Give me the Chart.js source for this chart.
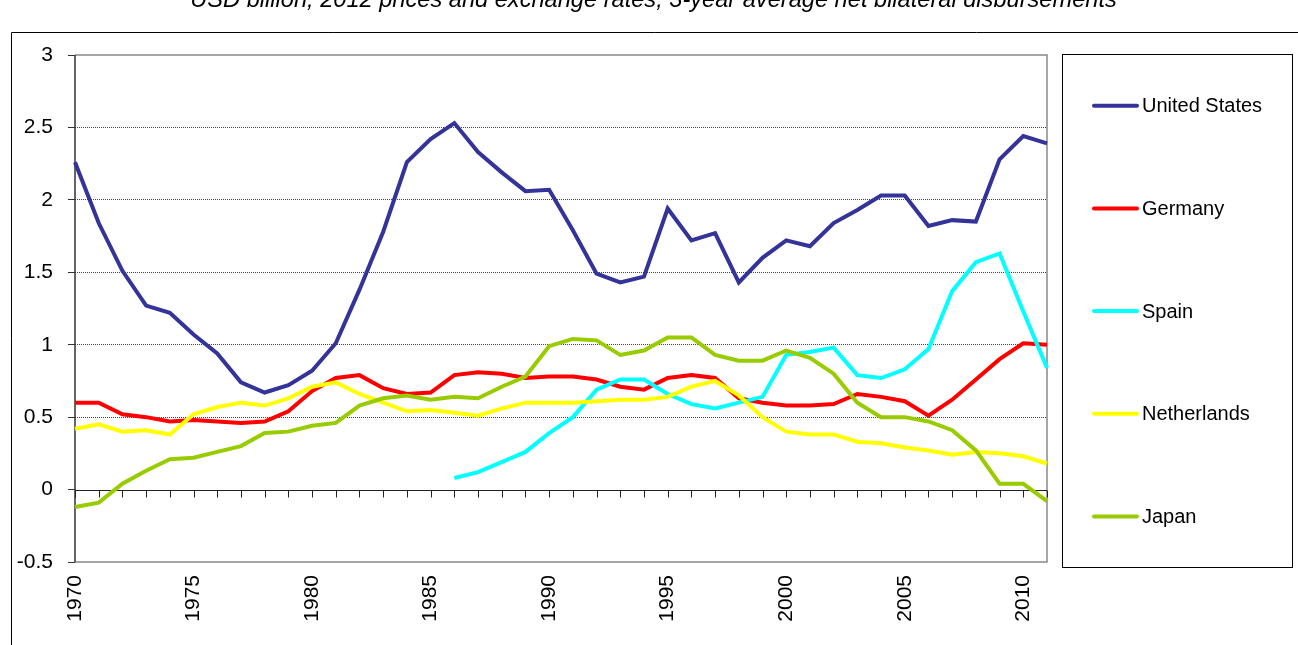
<!DOCTYPE html>
<html>
<head>
<meta charset="utf-8">
<script src="https://cdn.jsdelivr.net/npm/chart.js@4/dist/chart.umd.min.js"></script>
<style>
  html, body { margin: 0; padding: 0; background: #fff; }
  #wrap { width: 1298px; height: 645px; }
</style>
</head>
<body>
<div id="wrap"><canvas id="chart" width="1298" height="645"></canvas></div>
<script>
const titleText = "USD billion, 2012 prices and exchange rates, 3-year average net bilateral disbursements";

const years = [];
for (let y = 1970; y <= 2011; y++) years.push(String(y));

const seriesNames = ["United States", "Germany", "Spain", "Netherlands", "Japan"];
const seriesColors = ["#333399", "#FF0000", "#00FFFF", "#FFFF00", "#99CC00"];

const unitedStates = [2.26, 1.84, 1.51, 1.27, 1.22, 1.07, 0.94, 0.74, 0.67, 0.72,
  0.82, 1.01, 1.38, 1.78, 2.26, 2.42, 2.53, 2.33, 2.19, 2.06,
  2.07, 1.79, 1.49, 1.43, 1.47, 1.94, 1.72, 1.77, 1.43, 1.60,
  1.72, 1.68, 1.84, 1.93, 2.03, 2.03, 1.82, 1.86, 1.85, 2.28, 2.44, 2.39];
const germany = [0.60, 0.60, 0.52, 0.50, 0.47, 0.48, 0.47, 0.46, 0.47, 0.54,
  0.68, 0.77, 0.79, 0.70, 0.66, 0.67, 0.79, 0.81, 0.80, 0.77,
  0.78, 0.78, 0.76, 0.71, 0.69, 0.77, 0.79, 0.77, 0.63, 0.60,
  0.58, 0.58, 0.59, 0.66, 0.64, 0.61, 0.51, 0.62, 0.76, 0.90, 1.01, 1.00];
const spain = [null, null, null, null, null, null, null, null, null, null,
  null, null, null, null, null, null, 0.08, 0.12, 0.19, 0.26,
  0.39, 0.50, 0.69, 0.76, 0.76, 0.66, 0.59, 0.56, 0.60, 0.64,
  0.93, 0.95, 0.98, 0.79, 0.77, 0.83, 0.97, 1.37, 1.57, 1.63, 1.23, 0.84];
const netherlands = [0.42, 0.45, 0.40, 0.41, 0.38, 0.52, 0.57, 0.60, 0.58, 0.63,
  0.71, 0.74, 0.66, 0.60, 0.54, 0.55, 0.53, 0.51, 0.56, 0.60,
  0.60, 0.60, 0.61, 0.62, 0.62, 0.64, 0.71, 0.75, 0.65, 0.50,
  0.40, 0.38, 0.38, 0.33, 0.32, 0.29, 0.27, 0.24, 0.26, 0.25, 0.23, 0.18];
const japan = [-0.12, -0.09, 0.04, 0.13, 0.21, 0.22, 0.26, 0.30, 0.39, 0.40,
  0.44, 0.46, 0.58, 0.63, 0.65, 0.62, 0.64, 0.63, 0.71, 0.78,
  0.99, 1.04, 1.03, 0.93, 0.96, 1.05, 1.05, 0.93, 0.89, 0.89,
  0.96, 0.91, 0.80, 0.60, 0.50, 0.50, 0.47, 0.41, 0.27, 0.04, 0.04, -0.08];

const allSeries = [unitedStates, germany, spain, netherlands, japan];

const FONT = "'Liberation Sans', Arial, sans-serif";

// frame, title, zero axis with ticks, plot border, legend box
const decorations = {
  id: "decorations",
  beforeDatasetsDraw(chart) {
    const ctx = chart.ctx;
    const a = chart.chartArea;
    const xs = chart.scales.x;
    const ys = chart.scales.y;
    ctx.save();
    // plot border (grey)
    ctx.strokeStyle = "#888";
    ctx.lineWidth = 1.5;
    ctx.beginPath();
    ctx.moveTo(a.left, a.top);
    ctx.lineTo(a.right, a.top);
    ctx.lineTo(a.right, a.bottom);
    ctx.lineTo(a.left, a.bottom);
    ctx.stroke();
    // left axis
    ctx.strokeStyle = "#333";
    ctx.lineWidth = 1.5;
    ctx.beginPath();
    ctx.moveTo(a.left, a.top);
    ctx.lineTo(a.left, a.bottom);
    ctx.stroke();
    // zero axis + tick marks
    const y0 = Math.round(ys.getPixelForValue(0)) + 0.5;
    ctx.strokeStyle = "#222";
    ctx.lineWidth = 1;
    ctx.beginPath();
    ctx.moveTo(a.left, y0);
    ctx.lineTo(a.right, y0);
    years.forEach((yr, i) => {
      const px = Math.round(xs.getPixelForValue(i)) + 0.5;
      ctx.moveTo(px, y0);
      ctx.lineTo(px, y0 + 7);
    });
    ctx.stroke();
    ctx.restore();
  },
  afterDraw(chart) {
    const ctx = chart.ctx;
    ctx.save();
    // outer frame
    ctx.strokeStyle = "#000";
    ctx.lineWidth = 1;
    ctx.beginPath();
    ctx.moveTo(11.5, 645);
    ctx.lineTo(11.5, 32.5);
    ctx.lineTo(1298, 32.5);
    ctx.stroke();
    // title (cut off at top)
    ctx.fillStyle = "#000";
    ctx.font = "italic 19px " + FONT;
    let w = ctx.measureText(titleText).width;
    const size = 19 * 927 / w;
    ctx.font = "italic " + size.toFixed(2) + "px " + FONT;
    ctx.textAlign = "center";
    ctx.textBaseline = "alphabetic";
    ctx.fillText(titleText, 653.5, 7);
    // legend
    ctx.strokeStyle = "#000";
    ctx.lineWidth = 1;
    ctx.strokeRect(1062.5, 54.5, 230, 513);
    ctx.font = "20px " + FONT;
    ctx.textAlign = "left";
    ctx.textBaseline = "middle";
    chart.data.datasets.forEach((ds, i) => {
      const ly = 105.7 + i * 102.7;
      ctx.strokeStyle = ds.borderColor;
      ctx.lineWidth = 4;
      ctx.lineCap = "round";
      ctx.beginPath();
      ctx.moveTo(1094, ly);
      ctx.lineTo(1137, ly);
      ctx.stroke();
      ctx.fillStyle = "#000";
      ctx.fillText(ds.label, 1142, ly + 1);
    });
    ctx.restore();
  }
};

new Chart(document.getElementById("chart"), {
  type: "line",
  data: {
    labels: years,
    datasets: seriesNames.map((name, i) => ({
      label: name,
      data: allSeries[i],
      borderColor: seriesColors[i],
      backgroundColor: seriesColors[i],
      borderWidth: 4,
      pointRadius: 0,
      tension: 0,
      fill: false,
      spanGaps: false,
      order: seriesNames.length - i
    }))
  },
  options: {
    responsive: false,
    animation: false,
    devicePixelRatio: 1,
    layout: { padding: { left: 0, top: 55, right: 251, bottom: 0 } },
    plugins: {
      legend: { display: false },
      tooltip: { enabled: false },
      title: { display: false }
    },
    scales: {
      x: {
        type: "category",
        offset: false,
        afterFit(scale) { scale.height = 83; },
        grid: { display: true, drawOnChartArea: false, drawTicks: false },
        border: { display: false },
        ticks: {
          autoSkip: false,
          maxRotation: 90,
          minRotation: 90,
          padding: 13,
          color: "#000",
          font: { family: FONT, size: 21 },
          callback(value, index) {
            const yr = Number(years[index]);
            return yr % 5 === 0 ? years[index] : "";
          }
        }
      },
      y: {
        min: -0.5,
        max: 3,
        afterFit(scale) { scale.width = 75; },
        grid: {
          drawOnChartArea: true,
          drawTicks: true,
          tickLength: 7,
          tickColor: "#333",
          tickWidth: 1,
          tickBorderDash: [],
          lineWidth: 1,
          color(ctx) {
            const v = ctx.tick ? ctx.tick.value : null;
            if (v === null || v <= 0 || v >= 3) return "rgba(0,0,0,0)";
            return "#444";
          }
        },
        border: { display: false, dash: [1, 1] },
        ticks: {
          stepSize: 0.5,
          padding: 15,
          color: "#000",
          font: { family: FONT, size: 21 },
          callback(value) { return String(value); }
        }
      }
    }
  },
  plugins: [decorations]
});
</script>
</body>
</html>
